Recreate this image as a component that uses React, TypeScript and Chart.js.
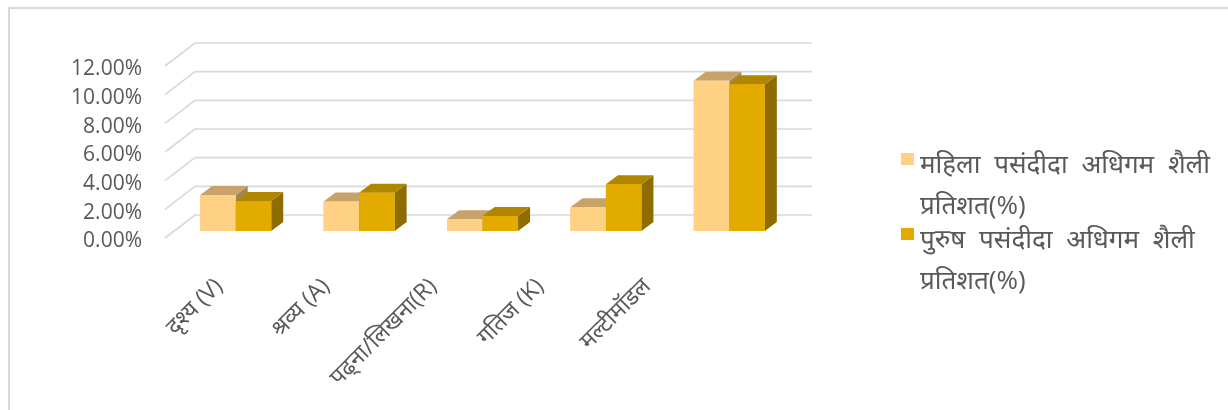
import { useEffect, useRef } from 'react';
import { Chart, registerables } from 'chart.js';

Chart.register(...registerables);

// ---- data ----
const categories = ['दृश्य (V)', 'श्रव्य (A)', 'पढ्ना/लिखना(R)', 'गतिज (K)', 'मल्टीमॉडल'];
const femaleValues = [0.0251, 0.0205, 0.0082, 0.0165, 0.1049];
const maleValues = [0.0209, 0.0267, 0.0105, 0.0326, 0.1024];
const seriesNames = ['महिला पसंदीदा अधिगम शैली प्रतिशत(%)', 'पुरुष पसंदीदा अधिगम शैली प्रतिशत(%)'];
const legendLines = [
  ['महिला पसंदीदा अधिगम शैली', 'प्रतिशत(%)'],
  ['पुरुष पसंदीदा अधिगम शैली', 'प्रतिशत(%)'],
];

// ---- styles ----
const FONT = "'Open Sans', 'Noto Sans', 'Noto Sans Devanagari', 'DejaVu Sans', sans-serif";
const TEXT = '#595959';
const GRID = '#d9d9d9';
const faces = [
  { front: '#FFD184', top: '#C9A26A', side: '#A88550' },
  { front: '#E3AA00', top: '#B08500', side: '#8F6C00' },
];
const BAR_DX = 12;
const BAR_DY = -9;

const wallPlugin = {
  id: 'wall3d',
  beforeDatasetsDraw(chart: any) {
    const { ctx, chartArea, scales } = chart;
    const y = scales.y;
    ctx.save();
    ctx.strokeStyle = GRID;
    ctx.lineWidth = 1.6;
    y.ticks.forEach((t: any) => {
      const py = y.getPixelForValue(t.value);
      ctx.beginPath();
      ctx.moveTo(chartArea.left - 9, py + 7);
      ctx.lineTo(chartArea.left + 21, py - 16);
      ctx.lineTo(chartArea.right + 21, py - 16);
      ctx.stroke();
    });
    ctx.restore();
  },
};

const barPlugin = {
  id: 'bars3d',
  afterDatasetsDraw(chart: any) {
    const { ctx } = chart;
    const n = chart.data.labels.length;
    ctx.save();
    for (let i = 0; i < n; i++) {
      chart.data.datasets.forEach((_: any, d: number) => {
        const el = chart.getDatasetMeta(d).data[i];
        const { x, y, base, width } = el.getProps(['x', 'y', 'base', 'width'], true);
        const l = x - width / 2;
        const r = x + width / 2;
        const f = faces[d];
        ctx.fillStyle = f.side;
        ctx.beginPath();
        ctx.moveTo(r, y);
        ctx.lineTo(r + BAR_DX, y + BAR_DY);
        ctx.lineTo(r + BAR_DX, base + BAR_DY);
        ctx.lineTo(r, base);
        ctx.closePath();
        ctx.fill();
        ctx.fillStyle = f.top;
        ctx.beginPath();
        ctx.moveTo(l, y);
        ctx.lineTo(l + BAR_DX, y + BAR_DY);
        ctx.lineTo(r + BAR_DX, y + BAR_DY);
        ctx.lineTo(r, y);
        ctx.closePath();
        ctx.fill();
        ctx.fillStyle = f.front;
        ctx.fillRect(l, y, r - l, base - y);
      });
    }
    ctx.restore();
  },
};

export default function App() {
  const ref = useRef<HTMLCanvasElement>(null);

  useEffect(() => {
    if (!ref.current) return;
    const chart = new Chart(ref.current, {
      type: 'bar',
      data: {
        labels: categories,
        datasets: [
          { label: seriesNames[0], data: femaleValues, backgroundColor: faces[0].front, categoryPercentage: 0.576, barPercentage: 1 },
          { label: seriesNames[1], data: maleValues, backgroundColor: faces[1].front, categoryPercentage: 0.576, barPercentage: 1 },
        ],
      },
      options: {
        responsive: false,
        animation: false,
        devicePixelRatio: 1,
        layout: { padding: { left: 0, top: 59, right: 437, bottom: 0 } },
        plugins: { legend: { display: false }, tooltip: { enabled: false } },
        scales: {
          x: { display: false },
          xl: {
            type: 'linear',
            position: 'bottom',
            offset: false,
            min: -0.421,
            max: 5.345,
            grid: { display: false, drawTicks: false, offset: false },
            border: { display: false },
            ticks: {
              stepSize: 1,
              includeBounds: false,
              autoSkip: false,
              minRotation: 45,
              maxRotation: 45,
              padding: 42,
              color: TEXT,
              font: { family: FONT, size: 23 },
              callback: (v: any) => (Number.isInteger(v) && categories[v] ? categories[v] : ''),
            },
            afterFit: (s: any) => { s.height = 179; },
          } as any,
          y: {
            min: 0,
            max: 0.12,
            grid: { display: false, drawTicks: false },
            border: { display: false },
            ticks: {
              stepSize: 0.02,
              padding: 32,
              labelOffset: 10.5,
              color: TEXT,
              font: { family: FONT, size: 21 },
              callback: (v: any) => (Number(v) * 100).toFixed(2) + '%',
            },
            afterFit: (s: any) => { s.width = 174; },
          },
        },
      },
      plugins: [wallPlugin, barPlugin],
    });
    return () => chart.destroy();
  }, []);

  return (
    <div>
      <div style={{ position: 'fixed', left: 8, top: 7, width: 1240, height: 420, borderLeft: `2px solid ${GRID}`, borderTop: `2px solid ${GRID}` }} />
      <canvas ref={ref} width={1228} height={410} style={{ position: 'fixed', left: 0, top: 0, display: 'block' }} />
      <div style={{ position: 'fixed', left: 901, top: 142.5, fontFamily: FONT, fontSize: 26, color: TEXT, wordSpacing: 7 }}>
        {legendLines.map((lines, i) => (
          <div key={i} style={{ display: 'flex', alignItems: 'flex-start', marginBottom: -7 }}>
            <div style={{ width: 13, height: 12, marginTop: 10.5, background: faces[i].front, flex: 'none' }} />
            <div style={{ marginLeft: 6, lineHeight: '41px' }}>
              {lines.map((t, j) => (<div key={j} style={{ whiteSpace: 'nowrap' }}>{t}</div>))}
            </div>
          </div>
        ))}
      </div>
    </div>
  );
}
